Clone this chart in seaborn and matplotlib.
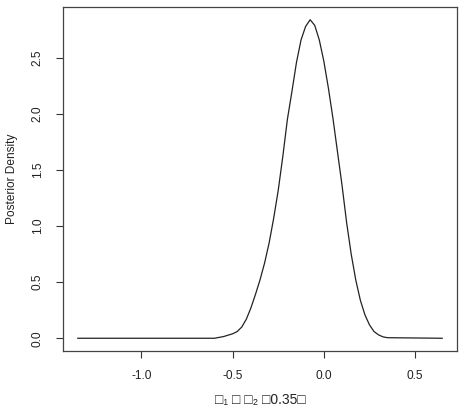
import matplotlib
matplotlib.use("Agg")
import matplotlib.pyplot as plt
import pandas as pd
import seaborn as sns

sns.set_theme(style="ticks")
plt.rcParams['font.family'] = ['Liberation Sans', 'DejaVu Sans']

# difference values
diff = [-1.35, -0.60, -0.55, -0.50, -0.475, -0.45, -0.425, -0.40, -0.375,
        -0.35, -0.325, -0.30, -0.275, -0.25, -0.225, -0.20, -0.175, -0.15,
        -0.125, -0.10, -0.075, -0.05, -0.025, 0.00, 0.025, 0.05, 0.075,
        0.10, 0.125, 0.15, 0.175, 0.20, 0.225, 0.25, 0.275, 0.30, 0.325,
        0.35, 0.65]
density = [0.0, 0.0, 0.015, 0.04, 0.06, 0.10, 0.17, 0.27, 0.39,
           0.52, 0.67, 0.85, 1.07, 1.32, 1.62, 1.95, 2.20, 2.46,
           2.66, 2.78, 2.84, 2.79, 2.66, 2.47, 2.23, 1.96, 1.66,
           1.36, 1.03, 0.75, 0.52, 0.34, 0.21, 0.12, 0.06, 0.03, 0.012,
           0.005, 0.0]
x_ticks = [-1.0, -0.5, 0.0, 0.5]
y_ticks = [0.0, 0.5, 1.0, 1.5, 2.0, 2.5]

df = pd.DataFrame({'diff': diff, 'density': density})

fig = plt.figure(figsize=(4.61, 4.16), dpi=100)
ax = fig.add_axes([63 / 461, 1 - 351 / 416, 394 / 461, 344 / 416])

sns.lineplot(data=df, x='diff', y='density', ax=ax, color='#222222',
             linewidth=0.9, sort=False)

# R-like 4% axis extension
xr = max(diff) - min(diff)
yr = max(density) - min(density)
ax.set_xlim(min(diff) - 0.04 * xr, max(diff) + 0.04 * xr)
ax.set_ylim(min(density) - 0.04 * yr, max(density) + 0.04 * yr)

ax.set_xticks(x_ticks)
ax.set_xticklabels([f'{v:.1f}' for v in x_ticks])
ax.set_yticks(y_ticks)
ax.set_yticklabels([f'{v:.1f}' for v in y_ticks], rotation=90, va='center')
ax.tick_params(axis='both', direction='out', length=5, width=0.8,
               color='#333333', labelsize=8.6, labelcolor='#222222')
ax.tick_params(axis='x', pad=8.5)
ax.tick_params(axis='y', pad=9)
for sp in ax.spines.values():
    sp.set_visible(True)
    sp.set_color('#444444')
    sp.set_linewidth(0.9)

ax.set_xlabel('□₁ □ □₂ □0.35□', fontsize=10, labelpad=8, color='#222222')
ax.set_ylabel('Posterior Density', fontsize=8.6, labelpad=10, color='#222222')

fig.savefig('out.png', dpi=100)
